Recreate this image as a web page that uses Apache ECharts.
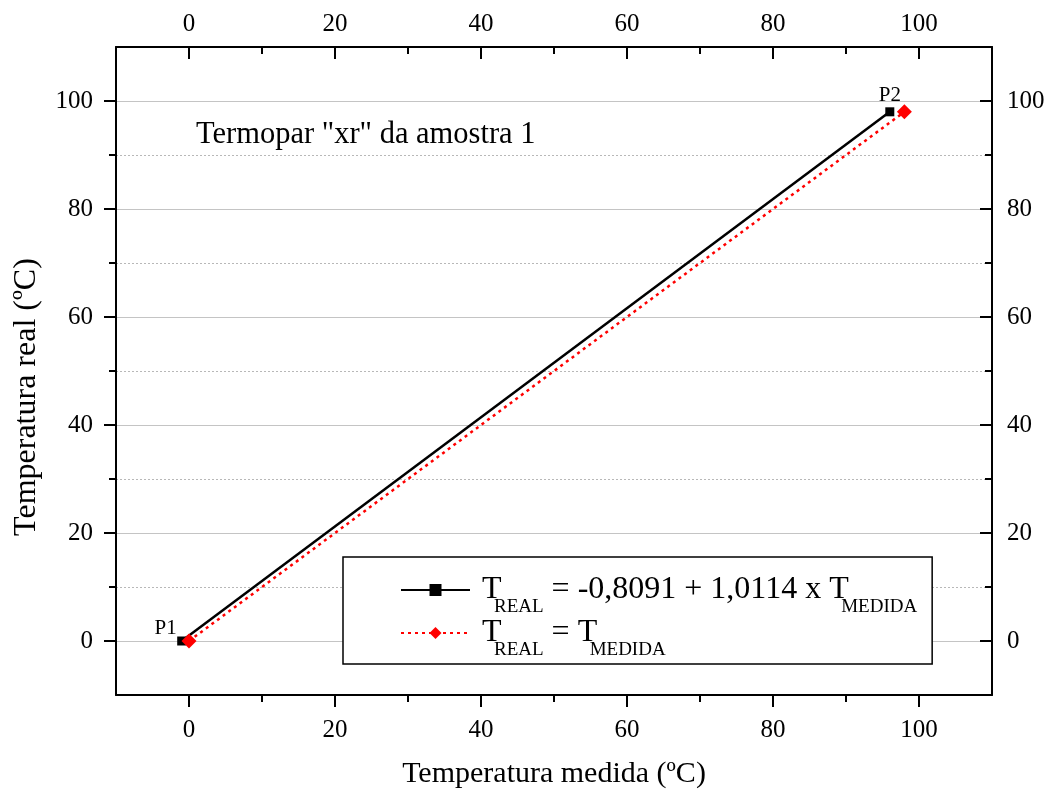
<!DOCTYPE html>
<html>
<head>
<meta charset="utf-8">
<script src="https://cdn.jsdelivr.net/npm/echarts@6/dist/echarts.min.js"></script>
<style>
html,body{margin:0;padding:0;background:#fff;}
#chart{width:1046px;height:791px;}
</style>
</head>
<body>
<div id="chart"></div>
<script>
// ---- data ----
const fitMedida = [-1, 96];
const fitReal = [0, 98];
const idMedida = [0, 98];
const idReal = [0, 98];
const pointNames = ['P1', 'P2'];
const majorTicks = [0, 20, 40, 60, 80, 100];
const minorTicks = [10, 30, 50, 70, 90];
const seriesNames = ['ajuste', 'identidade'];
const annotation = 'Termopar "xr" da amostra 1';
const xTitle = 'Temperatura medida (ºC)';
const yTitle = 'Temperatura real (ºC)';

const FONT = "'Liberation Serif', 'Times New Roman', serif";

function pairs(xs, ys) { return xs.map((x, i) => ({ value: [x, ys[i]], name: pointNames[i] })); }

function axisBase(pos) {
  return {
    type: 'value', min: -10, max: 110, interval: 10, position: pos,
    axisLine: { show: false, onZero: false, lineStyle: { color: '#000', width: 2 } },
    axisTick: { show: false },
    axisLabel: { show: false },
    splitLine: { show: false },
    gridIndex: 0
  };
}
function majorAxis(pos, inside, labelMargin, showSplit) {
  const a = axisBase(pos);
  a.axisLine.show = true;
  a.axisTick = { show: true, inside: inside, length: 12, customValues: majorTicks, lineStyle: { color: '#000', width: 2 } };
  a.axisLabel = { show: true, customValues: majorTicks, margin: labelMargin, fontSize: 25, color: '#000', fontFamily: FONT };
  if (showSplit) a.splitLine = { show: true, lineStyle: { color: '#c4c4c4', width: 1, type: 'solid' } };
  return a;
}
function minorAxis(pos, inside, showSplit) {
  const a = axisBase(pos);
  a.axisTick = { show: true, inside: inside, length: 7, customValues: minorTicks, lineStyle: { color: '#000', width: 2 } };
  if (showSplit) a.splitLine = { show: true, lineStyle: { color: '#b8b8b8', width: 1, type: [2, 2] } };
  return a;
}

const xBottom = majorAxis('bottom', false, 23, false);
xBottom.name = xTitle; xBottom.nameLocation = 'middle'; xBottom.nameGap = 64;
xBottom.nameTextStyle = { fontSize: 30, color: '#000', fontFamily: FONT };
const yLeft = majorAxis('left', false, 23, true);
yLeft.name = yTitle; yLeft.nameLocation = 'middle'; yLeft.nameGap = 73;
yLeft.nameTextStyle = { fontSize: 32, color: '#000', fontFamily: FONT, padding: [0, 52, 0, 0] };

const rich = {
  sp: { width: 7, fontSize: 10 },
  t: { fontSize: 32, lineHeight: 32, fontFamily: FONT, color: '#000', width: 12 },
  m: { fontSize: 32, lineHeight: 32, fontFamily: FONT, color: '#000' },
  s: { fontSize: 19, lineHeight: 19, fontFamily: FONT, color: '#000', padding: [35, 0, 0, 0] }
};

const option = {
  backgroundColor: '#fff',
  animation: false,
  grid: { left: 116, right: 54, top: 47, bottom: 96, containLabel: false, outerBoundsMode: 'none' },
  title: {
    text: annotation, left: 191, top: 114,
    textStyle: { fontSize: 30.5, fontWeight: 'normal', color: '#000', fontFamily: FONT }
  },
  xAxis: [
    xBottom,
    minorAxis('bottom', false, false),
    majorAxis('top', true, 10, false),
    minorAxis('top', true, false)
  ],
  yAxis: [
    yLeft,
    minorAxis('left', false, true),
    majorAxis('right', true, 15, false),
    minorAxis('right', true, false)
  ],
  legend: {
    orient: 'vertical', left: 343, top: 557,
    data: seriesNames,
    itemWidth: 69, itemHeight: 15, itemGap: -11,
    backgroundColor: '#fff', borderColor: '#000', borderWidth: 1.5, borderRadius: 0,
    padding: [6, 15, 4, 57],
    formatter: function (name) {
      if (name === seriesNames[0]) return '{sp| }{t|T}{s|REAL}{m| = -0,8091 + 1,0114 x }{t|T}{s|MEDIDA}';
      return '{sp| }{t|T}{s|REAL}{m| = }{t|T}{s|MEDIDA}';
    },
    textStyle: { rich: rich }
  },
  series: [
    {
      name: seriesNames[0], type: 'line', xAxisIndex: 0, yAxisIndex: 0,
      data: pairs(fitMedida, fitReal),
      symbol: 'rect', symbolSize: 9,
      itemStyle: { color: '#000' },
      lineStyle: { color: '#000', width: 2.5, type: 'solid' },
      label: {
        show: true, formatter: '{b}', fontSize: 21, color: '#000', fontFamily: FONT,
        position: 'top', distance: -2
      },
      labelLayout: function (p) {
        if (p.dataIndex === 0) return { dx: -16, dy: 0 };
        return { dy: -3 };
      },
      z: 3
    },
    {
      name: seriesNames[1], type: 'line', xAxisIndex: 0, yAxisIndex: 0,
      data: pairs(idMedida, idReal),
      symbol: 'diamond', symbolSize: 15,
      itemStyle: { color: '#ff0000' },
      lineStyle: { color: '#ff0000', width: 2.5, type: [3, 4] },
      z: 4
    }
  ]
};

const chart = echarts.init(document.getElementById('chart'), null, { renderer: 'canvas' });
chart.setOption(option);
</script>
</body>
</html>
